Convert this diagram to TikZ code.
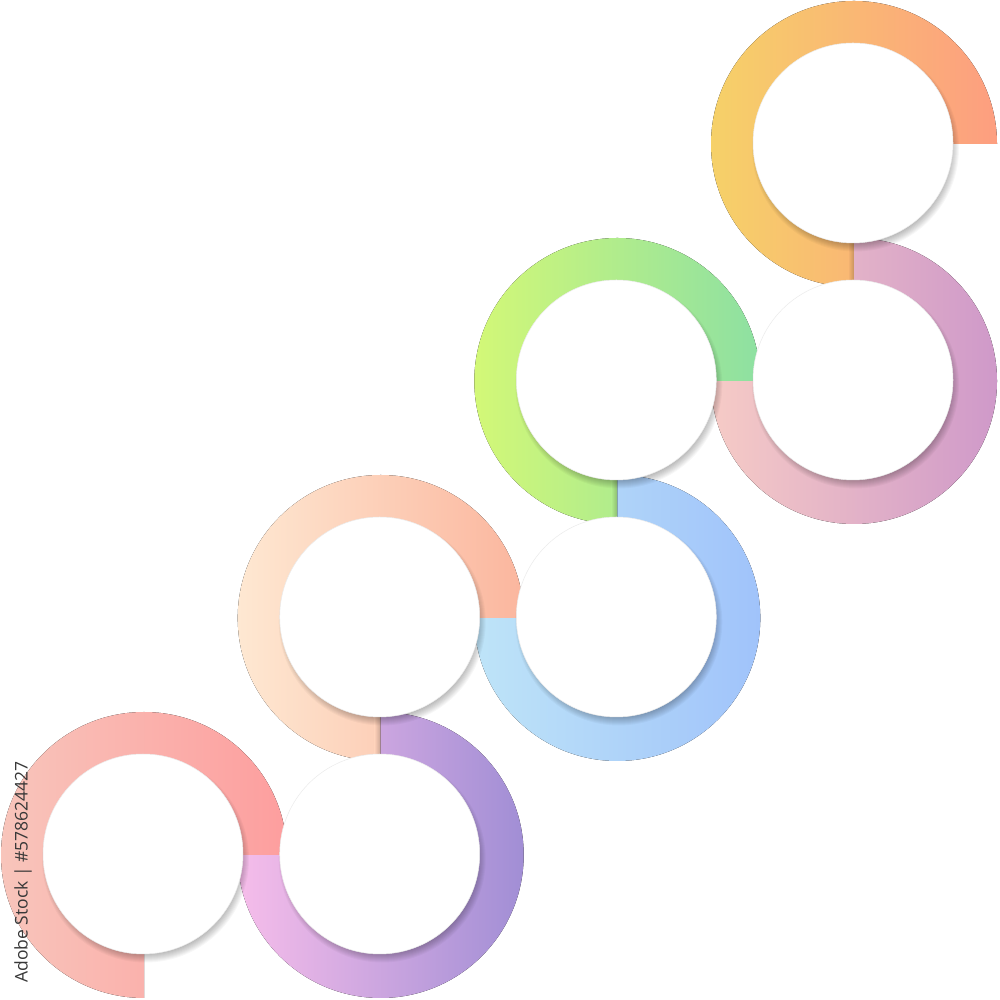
\documentclass[tikz,border=0pt]{standalone}
\usepackage{fontspec}
\newfontfamily\wmfont{Open Sans}
\definecolor{rA}{HTML}{F8C5BB}\definecolor{rB}{HTML}{FD9E9E}
\definecolor{pA}{HTML}{F6BDEA}\definecolor{pB}{HTML}{A18ED5}
\definecolor{oA}{HTML}{FEE8D2}\definecolor{oB}{HTML}{FBB69E}
\definecolor{bA}{HTML}{BEE4F8}\definecolor{bB}{HTML}{A0C3FA}
\definecolor{gA}{HTML}{D3F877}\definecolor{gB}{HTML}{8DE0A2}
\definecolor{mA}{HTML}{F6CBC6}\definecolor{mB}{HTML}{CF99C9}
\definecolor{yA}{HTML}{F6D168}\definecolor{yB}{HTML}{FD9E80}
\newcommand\ringUp[3]{% right -> top -> left -> bottom
  \fill[left color=#2,right color=#3] (#1) ++(0:143) arc[start angle=0,end angle=270,radius=143]
    -- ++(0,47) arc[start angle=270,end angle=0,radius=96] -- cycle;}
\newcommand\tailShade[3]{%
  \shade[left color=#2!50!#3,right color=#2!50!#3!80!black] ([shift={(-6,-143)}]#1) rectangle ([shift={(0,-96)}]#1);}
\newcommand\ringDown[3]{% left -> bottom -> right -> top
  \fill[left color=#2,right color=#3] (#1) ++(180:143) arc[start angle=180,end angle=450,radius=143]
    -- ++(0,-47) arc[start angle=450,end angle=180,radius=96] -- cycle;}
\newcommand\disc[1]{%
  \foreach \k in {0,...,8}{\fill[black,opacity=0.03] ([shift={(1.5,-4)}]#1) circle[radius=95.5+\k];}
}
\tikzset{whitedisc/.style={circle,fill=white,draw=black!8,line width=0.5pt,minimum size=200pt,inner sep=0pt}}
\begin{document}
\begin{tikzpicture}[x=1pt,y=1pt]
\useasboundingbox (0,0) rectangle (1000,1000);
\fill[white] (0,0) rectangle (1000,1000);
\coordinate (c1) at (144,145);
\coordinate (c2) at (380.7,145);
\coordinate (c3) at (380.7,382);
\coordinate (c4) at (617.3,382);
\coordinate (c5) at (617.3,619);
\coordinate (c6) at (854,619);
\coordinate (c7) at (854,856);
\ringUp{c7}{yA}{yB}\tailShade{c7}{yA}{yB}
\ringDown{c6}{mA}{mB}
\ringUp{c5}{gA}{gB}\tailShade{c5}{gA}{gB}
\ringDown{c4}{bA}{bB}
\ringUp{c3}{oA}{oB}\tailShade{c3}{oA}{oB}
\ringDown{c2}{pA}{pB}
\ringUp{c1}{rA}{rB}
\foreach \c in {c1,c2,c3,c4,c5,c6,c7}{\disc{\c}}
\foreach \c in {c1,c2,c3,c4,c5,c6,c7}{\node[whitedisc] (w\c) at ([shift={(-1,1)}]\c) {};}
\node[rotate=90,text=black!78,font=\wmfont\fontsize{17.5}{17.5}\selectfont,inner sep=0pt] (wm) at (23,128) {Adobe Stock | \#578624427};
\end{tikzpicture}
\end{document}
